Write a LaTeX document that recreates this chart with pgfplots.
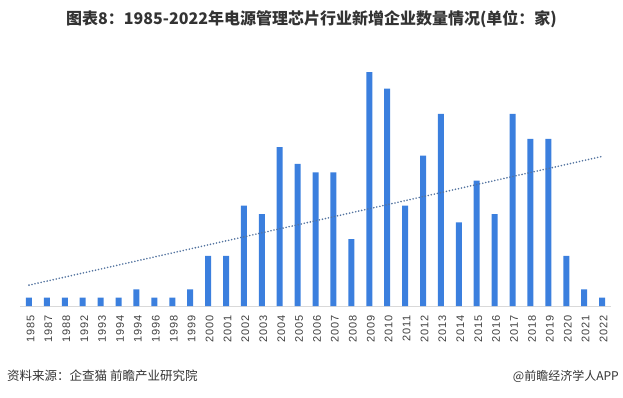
\documentclass[border=0pt]{standalone}
\usepackage{pgfplots}
\pgfplotsset{compat=1.18}
\usepackage{fontspec}
\setmainfont{Liberation Sans}
\newfontfamily\cjk{Noto Sans CJK SC}
\definecolor{barblue}{RGB}{59,127,222}
\definecolor{trendc}{RGB}{84,116,160}
\definecolor{txtc}{RGB}{51,51,51}
\begin{document}
\begin{tikzpicture}[x=1pt,y=1pt]
\path[use as bounding box] (0,0) rectangle (623,397);
\begin{axis}[
  at={(29pt,91pt)}, anchor=origin,
  scale only axis, width=591pt, height=250.7pt,
  xmin=-0.5, xmax=32.5, ymin=0, ymax=30,
  axis x line=bottom, axis y line=none,
  x axis line style={draw={rgb,255:red,217;green,217;blue,217}, line width=0.8pt, -},
  xtick={0,...,32},
  xticklabels={1985,1987,1988,1992,1993,1994,1994,1996,1998,1999,2000,2001,2002,2003,2004,2005,2006,2007,2008,2009,2010,2011,2012,2013,2014,2015,2016,2017,2018,2019,2020,2021,2022},
  x tick label style={rotate=90, anchor=east, font=\fontsize{11}{12}\selectfont\addfontfeature{LetterSpace=8}, text={rgb,255:red,64;green,64;blue,64}, xshift=-6pt, yshift=-1.5pt},
  major tick length=0pt,
  clip=false,
]
\addplot[ybar, bar width=6pt, bar shift=0pt, fill=barblue, draw=none] coordinates {
(0,1) (1,1) (2,1) (3,1) (4,1) (5,1) (6,2) (7,1) (8,1) (9,2)
(10,6) (11,6) (12,12) (13,11) (14,19) (15,17) (16,16) (17,16) (18,8) (19,28)
(20,26) (21,12) (22,18) (23,23) (24,10) (25,15) (26,11) (27,23) (28,20) (29,20)
(30,6) (31,2) (32,1)};
\addplot[trendc, line width=1.8pt, line cap=round, dash pattern=on 0pt off 3.1pt, no marks] coordinates {(0,2.5) (32,17.9)};
\end{axis}
\node[text=txtc, font=\cjk\bfseries\fontsize{16}{16}\selectfont] at (311.5,378) {图表8：1985-2022年电源管理芯片行业新增企业数量情况(单位：家)};
\node[anchor=west, inner sep=0pt, text={rgb,255:red,51;green,51;blue,51}, font=\cjk\fontsize{12.5}{13}\selectfont] at (7,21) {资料来源：企查猫 前瞻产业研究院};
\node[anchor=east, inner sep=0pt, text={rgb,255:red,51;green,51;blue,51}, font=\cjk\fontsize{12}{13}\selectfont] at (619,21) {@前瞻经济学人APP};
\end{tikzpicture}
\end{document}
